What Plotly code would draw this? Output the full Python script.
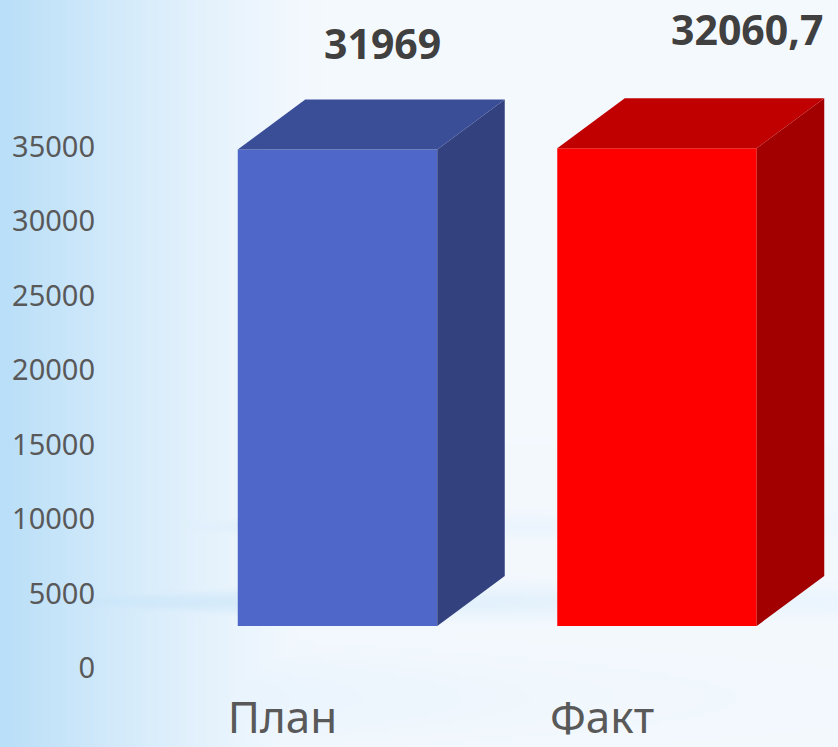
import base64, struct, zlib
import numpy as np
import plotly.graph_objects as go

# ---------------- data ----------------
categories = ["План", "Факт"]
values = [31969, 32060.7]
value_labels = ["31969", "32060,7"]
y_ticks = [0, 5000, 10000, 15000, 20000, 25000, 30000, 35000]

# ---------------- styles ----------------
front_colors = ["#4F67C8", "#FF0000"]
top_colors = ["#3A4E98", "#C00000"]
side_colors = ["#33417E", "#A20000"]
label_shift = [(45, 57), (90, 69)]  # (xshift, yshift) px for value labels

W, H = 838, 747
ML, MR, MT, MB = 110, 0, 0, 79
PW, PH = W - ML - MR, H - MT - MB

px_per_unit = 0.014903          # y scale (px per value unit)
px_per_cat = 319.5              # x scale (px per category step)
y_top = PH / px_per_unit
y_off = 42.0 / px_per_unit      # depth offset of the 3D floor
bar_w = 199.5 / px_per_cat
dx = 67.5 / px_per_cat
dy = 50.0 / px_per_unit

x2_lo = -(337.5 - ML) / px_per_cat
x2_rng = [x2_lo, x2_lo + PW / px_per_cat]
x_lo = -(282.5 - ML) / px_per_cat
x_rng = [x_lo, x_lo + PW / px_per_cat]


# ---------------- background gradient image ----------------
def make_bg(w, h):
    xs = np.linspace(0, W, w)[None, :]
    ys = np.linspace(0, H, h)[:, None]
    a = np.clip(1 - xs / 320.0, 0, 1) ** 1.3
    band1 = 0.85 * np.exp(-((ys - 603) / 15.0) ** 2) * np.exp(-xs / 450.0)
    band2 = 0.55 * np.exp(-((ys - 527) / 12.0) ** 2) * np.exp(-xs / 380.0)
    band3 = 0.40 * np.exp(-((ys - 700) / 45.0) ** 2) * np.exp(-xs / 300.0)
    a = np.clip(np.maximum(a, band1 + band2 + band3), 0, 1)
    blue = np.array([186, 223, 248], float)
    white = np.array([244, 249, 254], float)
    img = white[None, None, :] + a[..., None] * (blue - white)[None, None, :]
    return img.clip(0, 255).astype(np.uint8)


def png_uri(arr):
    h, w, _ = arr.shape
    raw = b"".join(b"\x00" + arr[i].tobytes() for i in range(h))

    def chunk(tag, data):
        c = struct.pack(">I", len(data)) + tag + data
        return c + struct.pack(">I", zlib.crc32(tag + data) & 0xFFFFFFFF)

    png = b"\x89PNG\r\n\x1a\n" + chunk(b"IHDR", struct.pack(">IIBBBBB", w, h, 8, 2, 0, 0, 0))
    png += chunk(b"IDAT", zlib.compress(raw, 9)) + chunk(b"IEND", b"")
    return "data:image/png;base64," + base64.b64encode(png).decode()


fig = go.Figure()

# invisible anchor trace for the main (labelled) axes
fig.add_trace(go.Scatter(x=[0, 1], y=[0, 0], mode="none", showlegend=False,
                         hoverinfo="skip", xaxis="x", yaxis="y"))

xs = list(range(len(categories)))
for i, v in enumerate(values):
    xr = xs[i] + bar_w / 2
    xl = xs[i] - bar_w / 2
    # side face
    fig.add_trace(go.Scatter(
        x=[xr, xr + dx, xr + dx, xr, xr], y=[0, dy, v + dy, v, 0],
        fill="toself", fillcolor=side_colors[i], mode="lines", line=dict(width=0),
        showlegend=False, hoverinfo="skip", xaxis="x2", yaxis="y2"))
    # top face
    fig.add_trace(go.Scatter(
        x=[xl, xl + dx, xr + dx, xr, xl], y=[v, v + dy, v + dy, v, v],
        fill="toself", fillcolor=top_colors[i], mode="lines", line=dict(width=0),
        showlegend=False, hoverinfo="skip", xaxis="x2", yaxis="y2"))

# front faces
fig.add_trace(go.Bar(x=xs, y=values, width=bar_w, marker=dict(color=front_colors, line=dict(width=0)),
                     showlegend=False, hoverinfo="skip", xaxis="x2", yaxis="y2"))

for i, v in enumerate(values):
    fig.add_annotation(x=xs[i], y=v + dy, xref="x2", yref="y2", text=value_labels[i],
                       showarrow=False, xshift=label_shift[i][0], yshift=label_shift[i][1],
                       font=dict(family="Noto Sans", size=41, color="#404040", weight="bold"))

fig.update_layout(
    width=W, height=H,
    margin=dict(l=ML, r=MR, t=MT, b=MB, autoexpand=False),
    paper_bgcolor="white", plot_bgcolor="rgba(0,0,0,0)",
    showlegend=False,
    xaxis=dict(range=x_rng, tickvals=xs, ticktext=categories, showgrid=False, zeroline=False,
               showline=False, ticks="", ticklabelstandoff=20,
               tickfont=dict(family="Noto Sans", size=44, color="#595959")),
    yaxis=dict(range=[0, y_top], tickvals=y_ticks, ticktext=[str(t) for t in y_ticks],
               showgrid=False, zeroline=False, showline=False,
               ticks="", ticklabelstandoff=14,
               tickfont=dict(family="Noto Sans", size=29, color="#595959")),
    xaxis2=dict(range=x2_rng, overlaying="x", visible=False),
    yaxis2=dict(range=[-y_off, y_top - y_off], overlaying="y", visible=False),
    images=[dict(source=png_uri(make_bg(210, 187)), xref="paper", yref="paper",
                 x=-ML / PW, y=1 + MT / PH, sizex=W / PW, sizey=H / PH,
                 xanchor="left", yanchor="top", sizing="stretch", layer="below")],
)

fig.write_html("out.html", config={"displayModeBar": False},
               post_script="document.body.style.margin='0';document.body.style.overflow='hidden';")
